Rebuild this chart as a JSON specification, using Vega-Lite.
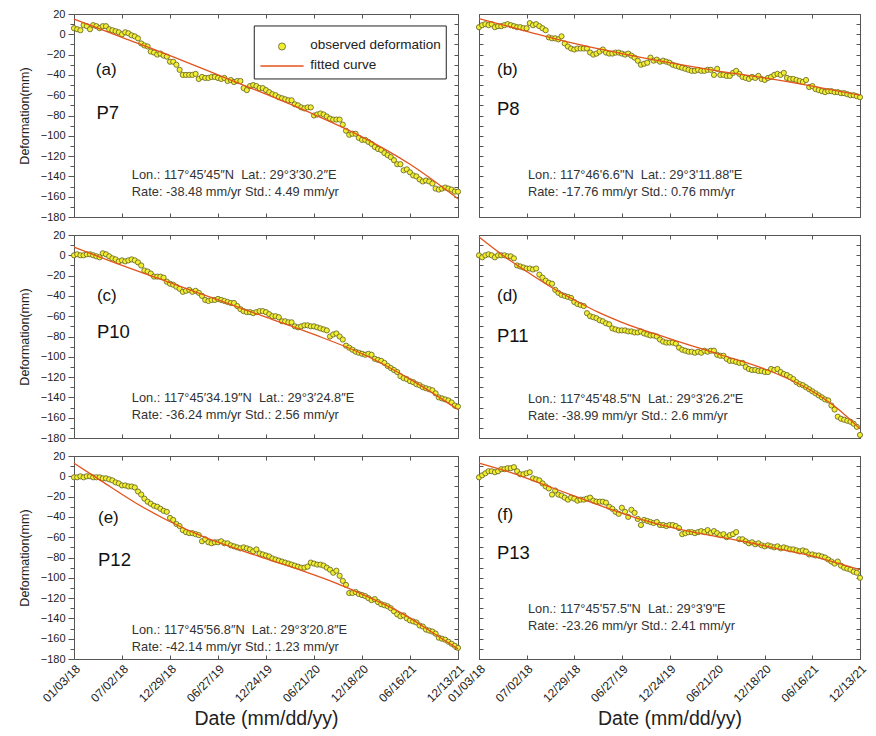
{
"$schema":"https://vega.github.io/schema/vega-lite/v6.json",
"background":"white",
"padding":{"left":18,"top":8,"right":5,"bottom":5},
"config":{"font":"Liberation Sans","view":{"stroke":null},"axis":{"domainColor":"#555","tickColor":"#555","labelColor":"#222","titleColor":"#222","grid":false,"labelFont":"Liberation Sans","titleFont":"Liberation Sans","domainWidth":1,"tickWidth":1}},
"datasets":{
"a":[{"t":0,"v":6},{"t":12,"v":5},{"t":24,"v":4},{"t":36,"v":9},{"t":48,"v":8},{"t":60,"v":5},{"t":72,"v":9},{"t":84,"v":8},{"t":96,"v":6},{"t":108,"v":8},{"t":120,"v":8},{"t":132,"v":5},{"t":144,"v":4},{"t":156,"v":3},{"t":168,"v":2},{"t":180,"v":0},{"t":192,"v":2},{"t":204,"v":1},{"t":216,"v":-1},{"t":228,"v":-2},{"t":240,"v":-4},{"t":252,"v":-9},{"t":264,"v":-11},{"t":276,"v":-12},{"t":288,"v":-17},{"t":300,"v":-18},{"t":312,"v":-20},{"t":324,"v":-19},{"t":336,"v":-21},{"t":348,"v":-22},{"t":360,"v":-27},{"t":372,"v":-27},{"t":384,"v":-30},{"t":396,"v":-35},{"t":408,"v":-40},{"t":420,"v":-40},{"t":432,"v":-40},{"t":444,"v":-40},{"t":456,"v":-39},{"t":468,"v":-44},{"t":480,"v":-42},{"t":492,"v":-43},{"t":504,"v":-43},{"t":516,"v":-42},{"t":528,"v":-42},{"t":540,"v":-43},{"t":552,"v":-44},{"t":564,"v":-43},{"t":576,"v":-46},{"t":588,"v":-45},{"t":600,"v":-47},{"t":612,"v":-46},{"t":624,"v":-46},{"t":636,"v":-53},{"t":648,"v":-55},{"t":660,"v":-51},{"t":672,"v":-50},{"t":684,"v":-51},{"t":696,"v":-53},{"t":708,"v":-53},{"t":720,"v":-55},{"t":732,"v":-57},{"t":744,"v":-59},{"t":756,"v":-60},{"t":768,"v":-62},{"t":780,"v":-63},{"t":792,"v":-64},{"t":804,"v":-65},{"t":816,"v":-65},{"t":828,"v":-69},{"t":840,"v":-70},{"t":852,"v":-72},{"t":864,"v":-73},{"t":876,"v":-72},{"t":888,"v":-72},{"t":900,"v":-80},{"t":912,"v":-79},{"t":924,"v":-78},{"t":936,"v":-79},{"t":948,"v":-81},{"t":960,"v":-83},{"t":972,"v":-84},{"t":984,"v":-84},{"t":996,"v":-84},{"t":1008,"v":-89},{"t":1020,"v":-95},{"t":1032,"v":-99},{"t":1044,"v":-98},{"t":1056,"v":-98},{"t":1068,"v":-102},{"t":1080,"v":-104},{"t":1092,"v":-104},{"t":1104,"v":-106},{"t":1116,"v":-108},{"t":1128,"v":-111},{"t":1140,"v":-113},{"t":1152,"v":-114},{"t":1164,"v":-117},{"t":1176,"v":-119},{"t":1188,"v":-121},{"t":1200,"v":-124},{"t":1212,"v":-128},{"t":1224,"v":-128},{"t":1236,"v":-134},{"t":1248,"v":-133},{"t":1260,"v":-136},{"t":1272,"v":-139},{"t":1284,"v":-140},{"t":1296,"v":-143},{"t":1308,"v":-145},{"t":1320,"v":-144},{"t":1332,"v":-145},{"t":1344,"v":-147},{"t":1356,"v":-152},{"t":1368,"v":-153},{"t":1380,"v":-152},{"t":1392,"v":-151},{"t":1404,"v":-152},{"t":1416,"v":-153},{"t":1428,"v":-155},{"t":1440,"v":-155}],
"b":[{"t":0,"v":7},{"t":12,"v":9},{"t":24,"v":10},{"t":36,"v":9},{"t":48,"v":10},{"t":60,"v":7},{"t":72,"v":8},{"t":84,"v":8},{"t":96,"v":9},{"t":108,"v":10},{"t":120,"v":9},{"t":132,"v":8},{"t":144,"v":7},{"t":156,"v":7},{"t":168,"v":6},{"t":180,"v":6},{"t":192,"v":11},{"t":204,"v":9},{"t":216,"v":10},{"t":228,"v":8},{"t":240,"v":6},{"t":252,"v":4},{"t":264,"v":-3},{"t":276,"v":-4},{"t":288,"v":-4},{"t":300,"v":-5},{"t":312,"v":-2},{"t":324,"v":-9},{"t":336,"v":-12},{"t":348,"v":-14},{"t":360,"v":-15},{"t":372,"v":-14},{"t":384,"v":-14},{"t":396,"v":-14},{"t":408,"v":-14},{"t":420,"v":-18},{"t":432,"v":-20},{"t":444,"v":-19},{"t":456,"v":-17},{"t":468,"v":-15},{"t":480,"v":-18},{"t":492,"v":-19},{"t":504,"v":-19},{"t":516,"v":-18},{"t":528,"v":-18},{"t":540,"v":-19},{"t":552,"v":-20},{"t":564,"v":-19},{"t":576,"v":-21},{"t":588,"v":-23},{"t":600,"v":-26},{"t":612,"v":-30},{"t":624,"v":-29},{"t":636,"v":-28},{"t":648,"v":-23},{"t":660,"v":-26},{"t":672,"v":-25},{"t":684,"v":-27},{"t":696,"v":-26},{"t":708,"v":-27},{"t":720,"v":-28},{"t":732,"v":-30},{"t":744,"v":-31},{"t":756,"v":-32},{"t":768,"v":-33},{"t":780,"v":-34},{"t":792,"v":-35},{"t":804,"v":-36},{"t":816,"v":-36},{"t":828,"v":-35},{"t":840,"v":-36},{"t":852,"v":-36},{"t":864,"v":-35},{"t":876,"v":-35},{"t":888,"v":-40},{"t":900,"v":-34},{"t":912,"v":-40},{"t":924,"v":-40},{"t":936,"v":-41},{"t":948,"v":-41},{"t":960,"v":-38},{"t":972,"v":-36},{"t":984,"v":-39},{"t":996,"v":-42},{"t":1008,"v":-43},{"t":1020,"v":-44},{"t":1032,"v":-42},{"t":1044,"v":-43},{"t":1056,"v":-41},{"t":1068,"v":-44},{"t":1080,"v":-45},{"t":1092,"v":-43},{"t":1104,"v":-42},{"t":1116,"v":-40},{"t":1128,"v":-39},{"t":1140,"v":-40},{"t":1152,"v":-38},{"t":1164,"v":-43},{"t":1176,"v":-44},{"t":1188,"v":-44},{"t":1200,"v":-45},{"t":1212,"v":-46},{"t":1224,"v":-47},{"t":1236,"v":-45},{"t":1248,"v":-52},{"t":1260,"v":-51},{"t":1272,"v":-54},{"t":1284,"v":-55},{"t":1296,"v":-56},{"t":1308,"v":-57},{"t":1320,"v":-56},{"t":1332,"v":-56},{"t":1344,"v":-57},{"t":1356,"v":-57},{"t":1368,"v":-58},{"t":1380,"v":-58},{"t":1392,"v":-59},{"t":1404,"v":-60},{"t":1416,"v":-60},{"t":1428,"v":-61},{"t":1440,"v":-62}],
"c":[{"t":0,"v":0},{"t":12,"v":1},{"t":24,"v":0},{"t":36,"v":0},{"t":48,"v":1},{"t":60,"v":1},{"t":72,"v":0},{"t":84,"v":-1},{"t":96,"v":-2},{"t":108,"v":2},{"t":120,"v":1},{"t":132,"v":-1},{"t":144,"v":-3},{"t":156,"v":-4},{"t":168,"v":-6},{"t":180,"v":-5},{"t":192,"v":-6},{"t":204,"v":-5},{"t":216,"v":-4},{"t":228,"v":-5},{"t":240,"v":-7},{"t":252,"v":-10},{"t":264,"v":-15},{"t":276,"v":-16},{"t":288,"v":-18},{"t":300,"v":-21},{"t":312,"v":-21},{"t":324,"v":-21},{"t":336,"v":-22},{"t":348,"v":-26},{"t":360,"v":-28},{"t":372,"v":-29},{"t":384,"v":-31},{"t":396,"v":-33},{"t":408,"v":-36},{"t":420,"v":-35},{"t":432,"v":-34},{"t":444,"v":-36},{"t":456,"v":-35},{"t":468,"v":-37},{"t":480,"v":-40},{"t":492,"v":-44},{"t":504,"v":-45},{"t":516,"v":-44},{"t":528,"v":-44},{"t":540,"v":-43},{"t":552,"v":-44},{"t":564,"v":-45},{"t":576,"v":-46},{"t":588,"v":-47},{"t":600,"v":-47},{"t":612,"v":-50},{"t":624,"v":-53},{"t":636,"v":-55},{"t":648,"v":-56},{"t":660,"v":-56},{"t":672,"v":-57},{"t":684,"v":-56},{"t":696,"v":-55},{"t":708,"v":-55},{"t":720,"v":-56},{"t":732,"v":-58},{"t":744,"v":-60},{"t":756,"v":-60},{"t":768,"v":-61},{"t":780,"v":-65},{"t":792,"v":-65},{"t":804,"v":-66},{"t":816,"v":-66},{"t":828,"v":-70},{"t":840,"v":-71},{"t":852,"v":-70},{"t":864,"v":-69},{"t":876,"v":-69},{"t":888,"v":-70},{"t":900,"v":-70},{"t":912,"v":-71},{"t":924,"v":-72},{"t":936,"v":-73},{"t":948,"v":-74},{"t":960,"v":-80},{"t":972,"v":-78},{"t":984,"v":-77},{"t":996,"v":-80},{"t":1008,"v":-83},{"t":1020,"v":-89},{"t":1032,"v":-91},{"t":1044,"v":-93},{"t":1056,"v":-95},{"t":1068,"v":-96},{"t":1080,"v":-97},{"t":1092,"v":-98},{"t":1104,"v":-97},{"t":1116,"v":-98},{"t":1128,"v":-102},{"t":1140,"v":-103},{"t":1152,"v":-104},{"t":1164,"v":-106},{"t":1176,"v":-109},{"t":1188,"v":-111},{"t":1200,"v":-113},{"t":1212,"v":-115},{"t":1224,"v":-119},{"t":1236,"v":-121},{"t":1248,"v":-122},{"t":1260,"v":-124},{"t":1272,"v":-125},{"t":1284,"v":-127},{"t":1296,"v":-128},{"t":1308,"v":-130},{"t":1320,"v":-131},{"t":1332,"v":-132},{"t":1344,"v":-133},{"t":1356,"v":-136},{"t":1368,"v":-140},{"t":1380,"v":-141},{"t":1392,"v":-142},{"t":1404,"v":-143},{"t":1416,"v":-145},{"t":1428,"v":-148},{"t":1440,"v":-149}],
"d":[{"t":0,"v":0},{"t":12,"v":-2},{"t":24,"v":0},{"t":36,"v":1},{"t":48,"v":0},{"t":60,"v":-2},{"t":72,"v":0},{"t":84,"v":0},{"t":96,"v":0},{"t":108,"v":-1},{"t":120,"v":-1},{"t":132,"v":-3},{"t":144,"v":-10},{"t":156,"v":-11},{"t":168,"v":-12},{"t":180,"v":-13},{"t":192,"v":-13},{"t":204,"v":-14},{"t":216,"v":-13},{"t":228,"v":-19},{"t":240,"v":-22},{"t":252,"v":-25},{"t":264,"v":-27},{"t":276,"v":-28},{"t":288,"v":-34},{"t":300,"v":-37},{"t":312,"v":-39},{"t":324,"v":-40},{"t":336,"v":-41},{"t":348,"v":-42},{"t":360,"v":-46},{"t":372,"v":-48},{"t":384,"v":-49},{"t":396,"v":-50},{"t":408,"v":-57},{"t":420,"v":-60},{"t":432,"v":-61},{"t":444,"v":-62},{"t":456,"v":-64},{"t":468,"v":-65},{"t":480,"v":-67},{"t":492,"v":-68},{"t":504,"v":-72},{"t":516,"v":-73},{"t":528,"v":-74},{"t":540,"v":-74},{"t":552,"v":-74},{"t":564,"v":-75},{"t":576,"v":-75},{"t":588,"v":-76},{"t":600,"v":-76},{"t":612,"v":-75},{"t":624,"v":-77},{"t":636,"v":-78},{"t":648,"v":-79},{"t":660,"v":-79},{"t":672,"v":-80},{"t":684,"v":-83},{"t":696,"v":-85},{"t":708,"v":-86},{"t":720,"v":-86},{"t":732,"v":-86},{"t":744,"v":-87},{"t":756,"v":-91},{"t":768,"v":-93},{"t":780,"v":-94},{"t":792,"v":-95},{"t":804,"v":-95},{"t":816,"v":-96},{"t":828,"v":-95},{"t":840,"v":-96},{"t":852,"v":-94},{"t":864,"v":-95},{"t":876,"v":-94},{"t":888,"v":-94},{"t":900,"v":-98},{"t":912,"v":-99},{"t":924,"v":-99},{"t":936,"v":-102},{"t":948,"v":-104},{"t":960,"v":-104},{"t":972,"v":-105},{"t":984,"v":-106},{"t":996,"v":-106},{"t":1008,"v":-110},{"t":1020,"v":-112},{"t":1032,"v":-113},{"t":1044,"v":-113},{"t":1056,"v":-114},{"t":1068,"v":-114},{"t":1080,"v":-115},{"t":1092,"v":-115},{"t":1104,"v":-112},{"t":1116,"v":-113},{"t":1128,"v":-112},{"t":1140,"v":-115},{"t":1152,"v":-117},{"t":1164,"v":-118},{"t":1176,"v":-120},{"t":1188,"v":-122},{"t":1200,"v":-125},{"t":1212,"v":-127},{"t":1224,"v":-128},{"t":1236,"v":-130},{"t":1248,"v":-132},{"t":1260,"v":-134},{"t":1272,"v":-136},{"t":1284,"v":-138},{"t":1296,"v":-140},{"t":1308,"v":-142},{"t":1320,"v":-143},{"t":1332,"v":-148},{"t":1344,"v":-152},{"t":1356,"v":-159},{"t":1368,"v":-161},{"t":1380,"v":-162},{"t":1392,"v":-163},{"t":1404,"v":-164},{"t":1416,"v":-166},{"t":1428,"v":-169},{"t":1440,"v":-177}],
"e":[{"t":0,"v":-1},{"t":12,"v":-1},{"t":24,"v":0},{"t":36,"v":-1},{"t":48,"v":0},{"t":60,"v":0},{"t":72,"v":-1},{"t":84,"v":-1},{"t":96,"v":-1},{"t":108,"v":-2},{"t":120,"v":-2},{"t":132,"v":-3},{"t":144,"v":-4},{"t":156,"v":-6},{"t":168,"v":-7},{"t":180,"v":-9},{"t":192,"v":-9},{"t":204,"v":-10},{"t":216,"v":-10},{"t":228,"v":-11},{"t":240,"v":-15},{"t":252,"v":-18},{"t":264,"v":-22},{"t":276,"v":-25},{"t":288,"v":-27},{"t":300,"v":-29},{"t":312,"v":-30},{"t":324,"v":-32},{"t":336,"v":-34},{"t":348,"v":-35},{"t":360,"v":-41},{"t":372,"v":-43},{"t":384,"v":-47},{"t":396,"v":-49},{"t":408,"v":-53},{"t":420,"v":-55},{"t":432,"v":-56},{"t":444,"v":-56},{"t":456,"v":-57},{"t":468,"v":-58},{"t":480,"v":-64},{"t":492,"v":-62},{"t":504,"v":-65},{"t":516,"v":-66},{"t":528,"v":-65},{"t":540,"v":-65},{"t":552,"v":-64},{"t":564,"v":-66},{"t":576,"v":-66},{"t":588,"v":-68},{"t":600,"v":-69},{"t":612,"v":-70},{"t":624,"v":-71},{"t":636,"v":-70},{"t":648,"v":-71},{"t":660,"v":-72},{"t":672,"v":-74},{"t":684,"v":-72},{"t":696,"v":-76},{"t":708,"v":-77},{"t":720,"v":-78},{"t":732,"v":-79},{"t":744,"v":-81},{"t":756,"v":-82},{"t":768,"v":-83},{"t":780,"v":-84},{"t":792,"v":-85},{"t":804,"v":-86},{"t":816,"v":-87},{"t":828,"v":-88},{"t":840,"v":-89},{"t":852,"v":-90},{"t":864,"v":-90},{"t":876,"v":-89},{"t":888,"v":-85},{"t":900,"v":-86},{"t":912,"v":-87},{"t":924,"v":-87},{"t":936,"v":-88},{"t":948,"v":-90},{"t":960,"v":-92},{"t":972,"v":-95},{"t":984,"v":-93},{"t":996,"v":-98},{"t":1008,"v":-103},{"t":1020,"v":-107},{"t":1032,"v":-115},{"t":1044,"v":-115},{"t":1056,"v":-114},{"t":1068,"v":-116},{"t":1080,"v":-117},{"t":1092,"v":-118},{"t":1104,"v":-120},{"t":1116,"v":-122},{"t":1128,"v":-121},{"t":1140,"v":-124},{"t":1152,"v":-126},{"t":1164,"v":-127},{"t":1176,"v":-128},{"t":1188,"v":-130},{"t":1200,"v":-133},{"t":1212,"v":-136},{"t":1224,"v":-138},{"t":1236,"v":-137},{"t":1248,"v":-140},{"t":1260,"v":-142},{"t":1272,"v":-143},{"t":1284,"v":-144},{"t":1296,"v":-147},{"t":1308,"v":-148},{"t":1320,"v":-151},{"t":1332,"v":-152},{"t":1344,"v":-153},{"t":1356,"v":-155},{"t":1368,"v":-159},{"t":1380,"v":-160},{"t":1392,"v":-161},{"t":1404,"v":-163},{"t":1416,"v":-165},{"t":1428,"v":-167},{"t":1440,"v":-169}],
"f":[{"t":0,"v":-1},{"t":12,"v":1},{"t":24,"v":3},{"t":36,"v":5},{"t":48,"v":5},{"t":60,"v":4},{"t":72,"v":5},{"t":84,"v":7},{"t":96,"v":7},{"t":108,"v":8},{"t":120,"v":8},{"t":132,"v":9},{"t":144,"v":5},{"t":156,"v":2},{"t":168,"v":2},{"t":180,"v":3},{"t":192,"v":4},{"t":204,"v":-2},{"t":216,"v":-3},{"t":228,"v":-4},{"t":240,"v":-7},{"t":252,"v":-10},{"t":264,"v":-12},{"t":276,"v":-18},{"t":288,"v":-14},{"t":300,"v":-18},{"t":312,"v":-19},{"t":324,"v":-21},{"t":336,"v":-23},{"t":348,"v":-21},{"t":360,"v":-22},{"t":372,"v":-24},{"t":384,"v":-23},{"t":396,"v":-23},{"t":408,"v":-22},{"t":420,"v":-21},{"t":432,"v":-24},{"t":444,"v":-25},{"t":456,"v":-25},{"t":468,"v":-25},{"t":480,"v":-26},{"t":492,"v":-30},{"t":504,"v":-32},{"t":516,"v":-35},{"t":528,"v":-37},{"t":540,"v":-31},{"t":552,"v":-35},{"t":564,"v":-40},{"t":576,"v":-33},{"t":588,"v":-36},{"t":600,"v":-42},{"t":612,"v":-48},{"t":624,"v":-43},{"t":636,"v":-44},{"t":648,"v":-45},{"t":660,"v":-46},{"t":672,"v":-45},{"t":684,"v":-48},{"t":696,"v":-48},{"t":708,"v":-49},{"t":720,"v":-48},{"t":732,"v":-48},{"t":744,"v":-49},{"t":756,"v":-51},{"t":768,"v":-57},{"t":780,"v":-56},{"t":792,"v":-55},{"t":804,"v":-55},{"t":816,"v":-56},{"t":828,"v":-55},{"t":840,"v":-54},{"t":852,"v":-55},{"t":864,"v":-53},{"t":876,"v":-56},{"t":888,"v":-54},{"t":900,"v":-56},{"t":912,"v":-58},{"t":924,"v":-57},{"t":936,"v":-60},{"t":948,"v":-58},{"t":960,"v":-57},{"t":972,"v":-55},{"t":984,"v":-62},{"t":996,"v":-62},{"t":1008,"v":-64},{"t":1020,"v":-66},{"t":1032,"v":-65},{"t":1044,"v":-67},{"t":1056,"v":-66},{"t":1068,"v":-68},{"t":1080,"v":-69},{"t":1092,"v":-68},{"t":1104,"v":-69},{"t":1116,"v":-70},{"t":1128,"v":-69},{"t":1140,"v":-71},{"t":1152,"v":-70},{"t":1164,"v":-71},{"t":1176,"v":-72},{"t":1188,"v":-72},{"t":1200,"v":-73},{"t":1212,"v":-74},{"t":1224,"v":-73},{"t":1236,"v":-74},{"t":1248,"v":-77},{"t":1260,"v":-77},{"t":1272,"v":-78},{"t":1284,"v":-78},{"t":1296,"v":-79},{"t":1308,"v":-80},{"t":1320,"v":-82},{"t":1332,"v":-84},{"t":1344,"v":-86},{"t":1356,"v":-84},{"t":1368,"v":-88},{"t":1380,"v":-90},{"t":1392,"v":-91},{"t":1404,"v":-92},{"t":1416,"v":-94},{"t":1428,"v":-95},{"t":1440,"v":-100}],
"a_fit":[{"t":0,"v":15},{"t":180,"v":-3},{"t":360,"v":-21},{"t":540,"v":-40},{"t":720,"v":-59},{"t":900,"v":-79},{"t":1080,"v":-101},{"t":1260,"v":-128},{"t":1440,"v":-162}],
"b_fit":[{"t":0,"v":15.5},{"t":180,"v":3},{"t":360,"v":-9},{"t":540,"v":-19},{"t":720,"v":-28},{"t":900,"v":-36},{"t":1080,"v":-43},{"t":1260,"v":-51},{"t":1440,"v":-60}],
"c_fit":[{"t":0,"v":8},{"t":180,"v":-10},{"t":360,"v":-27},{"t":540,"v":-44},{"t":720,"v":-61},{"t":900,"v":-78},{"t":1080,"v":-97},{"t":1260,"v":-122},{"t":1440,"v":-152}],
"d_fit":[{"t":0,"v":18},{"t":90,"v":0},{"t":180,"v":-16},{"t":270,"v":-31},{"t":360,"v":-44},{"t":450,"v":-56},{"t":540,"v":-66},{"t":720,"v":-82},{"t":900,"v":-97},{"t":1080,"v":-112},{"t":1260,"v":-134},{"t":1350,"v":-150},{"t":1440,"v":-171}],
"e_fit":[{"t":0,"v":13},{"t":105,"v":-5},{"t":230,"v":-26},{"t":355,"v":-44},{"t":480,"v":-59},{"t":605,"v":-71},{"t":730,"v":-82},{"t":855,"v":-93},{"t":980,"v":-105},{"t":1105,"v":-119},{"t":1230,"v":-135},{"t":1380,"v":-160},{"t":1440,"v":-170}],
"f_fit":[{"t":0,"v":13},{"t":116,"v":4},{"t":242,"v":-8},{"t":367,"v":-20},{"t":493,"v":-32},{"t":619,"v":-43},{"t":745,"v":-51.5},{"t":870,"v":-58},{"t":996,"v":-64},{"t":1122,"v":-71},{"t":1248,"v":-78},{"t":1374,"v":-87},{"t":1440,"v":-92}]
},
"spacing":7,
"vconcat":[
{"bounds":"flush","spacing":21,"hconcat":[
{"width":384,"height":203,"resolve":{"axis":{"x":"independent","y":"independent"}},
"layer":[
{"data":{"name":"a"},"mark":{"type":"point","filled":true,"size":27,"fill":"#f2ee30","stroke":"#5e5e28","strokeWidth":0.8,"opacity":1},
"encoding":{"x":{"field":"t","type":"quantitative","scale":{"domain":[0,1440],"nice":false},"axis":{"orient":"bottom","values":[0,180,360,540,720,900,1080,1260,1440],"tickSize":-4,"labels":false,"title":null}},
"y":{"field":"v","type":"quantitative","scale":{"domain":[-180,20],"nice":false,"zero":false},"axis":{"orient":"left","values":[20,10,0,-10,-20,-30,-40,-50,-60,-70,-80,-90,-100,-110,-120,-130,-140,-150,-160,-170,-180],"labelExpr":"datum.value % 20 === 0 ? datum.label : ''","tickSize":{"condition":{"test":"datum.value % 20 === 0","value":6},"value":4},"labelPadding":3,"labelFontSize":11,"labelOverlap":false,"labelFlush":false,"title":"Deformation(mm)","titleFontSize":12.5,"titleFontWeight":"normal","titlePadding":9}}}},
{"data":{"name":"a_fit"},"mark":{"type":"line","interpolate":"monotone","strokeWidth":1.3,"color":"#e3531d"},
"encoding":{"x":{"field":"t","type":"quantitative","axis":{"orient":"top","values":[0,180,360,540,720,900,1080,1260,1440],"tickSize":-4,"labels":false,"title":null}},
"y":{"field":"v","type":"quantitative","axis":{"orient":"right","values":[20,10,0,-10,-20,-30,-40,-50,-60,-70,-80,-90,-100,-110,-120,-130,-140,-150,-160,-170,-180],"tickSize":-4,"labels":false,"title":null}}}},
{"data":{"values":[{}]},"mark":{"type":"rect","fill":"white","stroke":"#222","strokeWidth":1},"encoding":{"x":{"datum":676,"type":"quantitative","axis":null},"x2":{"datum":1396},"y":{"datum":8.2,"type":"quantitative","axis":null},"y2":{"datum":-44}}},
{"data":{"values":[{}]},"mark":{"type":"point","filled":true,"size":50,"fill":"#f2ee30","stroke":"#5e5e28","strokeWidth":0.8,"opacity":1},"encoding":{"x":{"datum":780,"type":"quantitative","axis":null},"y":{"datum":-12,"type":"quantitative","axis":null}}},
{"data":{"values":[{}]},"mark":{"type":"rule","color":"#e3531d","strokeWidth":1.5},"encoding":{"x":{"datum":699,"type":"quantitative","axis":null},"x2":{"datum":861},"y":{"datum":-31.2,"type":"quantitative","axis":null}}},
{"data":{"values":[{}]},"mark":{"type":"text","align":"left","baseline":"middle","fontSize":13.5,"color":"#222"},"encoding":{"x":{"datum":886,"type":"quantitative","axis":null},"y":{"datum":-11,"type":"quantitative","axis":null},"text":{"value":"observed deformation"}}},
{"data":{"values":[{}]},"mark":{"type":"text","align":"left","baseline":"middle","fontSize":13.5,"color":"#222"},"encoding":{"x":{"datum":886,"type":"quantitative","axis":null},"y":{"datum":-30.5,"type":"quantitative","axis":null},"text":{"value":"fitted curve"}}},
{"data":{"values":[{}]},"mark":{"type":"text","align":"left","baseline":"middle","fontSize":17,"color":"#111"},"encoding":{"x":{"datum":82,"type":"quantitative","axis":null},"y":{"datum":-35.5,"type":"quantitative","axis":null},"text":{"value":"(a)"}}},
{"data":{"values":[{}]},"mark":{"type":"text","align":"left","baseline":"middle","fontSize":18.5,"color":"#111"},"encoding":{"x":{"datum":84,"type":"quantitative","axis":null},"y":{"datum":-77.5,"type":"quantitative","axis":null},"text":{"value":"P7"}}},
{"data":{"values":[{}]},"mark":{"type":"text","align":"left","baseline":"middle","fontSize":12.8,"lineHeight":17,"color":"#333"},"encoding":{"x":{"datum":217,"type":"quantitative","axis":null},"y":{"datum":-139,"type":"quantitative","axis":null},"text":{"value":["Lon.: 117°45′45″N\u00a0 Lat.: 29°3′30.2″E","Rate: -38.48 mm/yr Std.: 4.49 mm/yr"]}}}
]},
{"width":381,"height":203,"resolve":{"axis":{"x":"independent","y":"independent"}},
"layer":[
{"data":{"name":"b"},"mark":{"type":"point","filled":true,"size":27,"fill":"#f2ee30","stroke":"#5e5e28","strokeWidth":0.8,"opacity":1},
"encoding":{"x":{"field":"t","type":"quantitative","scale":{"domain":[0,1440],"nice":false},"axis":{"orient":"bottom","values":[0,180,360,540,720,900,1080,1260,1440],"tickSize":-4,"labels":false,"title":null}},
"y":{"field":"v","type":"quantitative","scale":{"domain":[-180,20],"nice":false,"zero":false},"axis":{"orient":"left","values":[20,10,0,-10,-20,-30,-40,-50,-60,-70,-80,-90,-100,-110,-120,-130,-140,-150,-160,-170,-180],"tickSize":-4,"labels":false,"title":null}}}},
{"data":{"name":"b_fit"},"mark":{"type":"line","interpolate":"monotone","strokeWidth":1.3,"color":"#e3531d"},
"encoding":{"x":{"field":"t","type":"quantitative","axis":{"orient":"top","values":[0,180,360,540,720,900,1080,1260,1440],"tickSize":-4,"labels":false,"title":null}},
"y":{"field":"v","type":"quantitative","axis":{"orient":"right","values":[20,10,0,-10,-20,-30,-40,-50,-60,-70,-80,-90,-100,-110,-120,-130,-140,-150,-160,-170,-180],"tickSize":-4,"labels":false,"title":null}}}},
{"data":{"values":[{}]},"mark":{"type":"text","align":"left","baseline":"middle","fontSize":17,"color":"#111"},"encoding":{"x":{"datum":68,"type":"quantitative","axis":null},"y":{"datum":-35.5,"type":"quantitative","axis":null},"text":{"value":"(b)"}}},
{"data":{"values":[{}]},"mark":{"type":"text","align":"left","baseline":"middle","fontSize":18.5,"color":"#111"},"encoding":{"x":{"datum":68,"type":"quantitative","axis":null},"y":{"datum":-74,"type":"quantitative","axis":null},"text":{"value":"P8"}}},
{"data":{"values":[{}]},"mark":{"type":"text","align":"left","baseline":"middle","fontSize":12.8,"lineHeight":17,"color":"#333"},"encoding":{"x":{"datum":185,"type":"quantitative","axis":null},"y":{"datum":-139,"type":"quantitative","axis":null},"text":{"value":["Lon.: 117°46'6.6\"N\u00a0 Lat.: 29°3'11.88\"E","Rate: -17.76 mm/yr Std.: 0.76 mm/yr"]}}}
]}
]},
{"bounds":"flush","spacing":21,"hconcat":[
{"width":384,"height":203,"resolve":{"axis":{"x":"independent","y":"independent"}},
"layer":[
{"data":{"name":"c"},"mark":{"type":"point","filled":true,"size":27,"fill":"#f2ee30","stroke":"#5e5e28","strokeWidth":0.8,"opacity":1},
"encoding":{"x":{"field":"t","type":"quantitative","scale":{"domain":[0,1440],"nice":false},"axis":{"orient":"bottom","values":[0,180,360,540,720,900,1080,1260,1440],"tickSize":-4,"labels":false,"title":null}},
"y":{"field":"v","type":"quantitative","scale":{"domain":[-180,20],"nice":false,"zero":false},"axis":{"orient":"left","values":[20,10,0,-10,-20,-30,-40,-50,-60,-70,-80,-90,-100,-110,-120,-130,-140,-150,-160,-170,-180],"labelExpr":"datum.value % 20 === 0 ? datum.label : ''","tickSize":{"condition":{"test":"datum.value % 20 === 0","value":6},"value":4},"labelPadding":3,"labelFontSize":11,"labelOverlap":false,"labelFlush":false,"title":"Deformation(mm)","titleFontSize":12.5,"titleFontWeight":"normal","titlePadding":9}}}},
{"data":{"name":"c_fit"},"mark":{"type":"line","interpolate":"monotone","strokeWidth":1.3,"color":"#e3531d"},
"encoding":{"x":{"field":"t","type":"quantitative","axis":{"orient":"top","values":[0,180,360,540,720,900,1080,1260,1440],"tickSize":-4,"labels":false,"title":null}},
"y":{"field":"v","type":"quantitative","axis":{"orient":"right","values":[20,10,0,-10,-20,-30,-40,-50,-60,-70,-80,-90,-100,-110,-120,-130,-140,-150,-160,-170,-180],"tickSize":-4,"labels":false,"title":null}}}},
{"data":{"values":[{}]},"mark":{"type":"text","align":"left","baseline":"middle","fontSize":17,"color":"#111"},"encoding":{"x":{"datum":86,"type":"quantitative","axis":null},"y":{"datum":-40,"type":"quantitative","axis":null},"text":{"value":"(c)"}}},
{"data":{"values":[{}]},"mark":{"type":"text","align":"left","baseline":"middle","fontSize":18.5,"color":"#111"},"encoding":{"x":{"datum":86,"type":"quantitative","axis":null},"y":{"datum":-76,"type":"quantitative","axis":null},"text":{"value":"P10"}}},
{"data":{"values":[{}]},"mark":{"type":"text","align":"left","baseline":"middle","fontSize":12.8,"lineHeight":17,"color":"#333"},"encoding":{"x":{"datum":217,"type":"quantitative","axis":null},"y":{"datum":-141,"type":"quantitative","axis":null},"text":{"value":["Lon.: 117°45′34.19″N\u00a0 Lat.: 29°3′24.8″E","Rate: -36.24 mm/yr Std.: 2.56 mm/yr"]}}}
]},
{"width":381,"height":203,"resolve":{"axis":{"x":"independent","y":"independent"}},
"layer":[
{"data":{"name":"d"},"mark":{"type":"point","filled":true,"size":27,"fill":"#f2ee30","stroke":"#5e5e28","strokeWidth":0.8,"opacity":1},
"encoding":{"x":{"field":"t","type":"quantitative","scale":{"domain":[0,1440],"nice":false},"axis":{"orient":"bottom","values":[0,180,360,540,720,900,1080,1260,1440],"tickSize":-4,"labels":false,"title":null}},
"y":{"field":"v","type":"quantitative","scale":{"domain":[-180,20],"nice":false,"zero":false},"axis":{"orient":"left","values":[20,10,0,-10,-20,-30,-40,-50,-60,-70,-80,-90,-100,-110,-120,-130,-140,-150,-160,-170,-180],"tickSize":-4,"labels":false,"title":null}}}},
{"data":{"name":"d_fit"},"mark":{"type":"line","interpolate":"monotone","strokeWidth":1.3,"color":"#e3531d"},
"encoding":{"x":{"field":"t","type":"quantitative","axis":{"orient":"top","values":[0,180,360,540,720,900,1080,1260,1440],"tickSize":-4,"labels":false,"title":null}},
"y":{"field":"v","type":"quantitative","axis":{"orient":"right","values":[20,10,0,-10,-20,-30,-40,-50,-60,-70,-80,-90,-100,-110,-120,-130,-140,-150,-160,-170,-180],"tickSize":-4,"labels":false,"title":null}}}},
{"data":{"values":[{}]},"mark":{"type":"text","align":"left","baseline":"middle","fontSize":17,"color":"#111"},"encoding":{"x":{"datum":68,"type":"quantitative","axis":null},"y":{"datum":-40,"type":"quantitative","axis":null},"text":{"value":"(d)"}}},
{"data":{"values":[{}]},"mark":{"type":"text","align":"left","baseline":"middle","fontSize":18.5,"color":"#111"},"encoding":{"x":{"datum":68,"type":"quantitative","axis":null},"y":{"datum":-79.5,"type":"quantitative","axis":null},"text":{"value":"P11"}}},
{"data":{"values":[{}]},"mark":{"type":"text","align":"left","baseline":"middle","fontSize":12.8,"lineHeight":17,"color":"#333"},"encoding":{"x":{"datum":185,"type":"quantitative","axis":null},"y":{"datum":-141.5,"type":"quantitative","axis":null},"text":{"value":["Lon.: 117°45'48.5\"N\u00a0 Lat.: 29°3'26.2\"E","Rate: -38.99 mm/yr Std.: 2.6 mm/yr"]}}}
]}
]},
{"bounds":"flush","spacing":21,"hconcat":[
{"width":384,"height":203,"resolve":{"axis":{"x":"independent","y":"independent"}},
"layer":[
{"data":{"name":"e"},"mark":{"type":"point","filled":true,"size":27,"fill":"#f2ee30","stroke":"#5e5e28","strokeWidth":0.8,"opacity":1},
"encoding":{"x":{"field":"t","type":"quantitative","scale":{"domain":[0,1440],"nice":false},"axis":{"orient":"bottom","values":[0,180,360,540,720,900,1080,1260,1440],"tickSize":-4,"labelExpr":"timeFormat(datetime(2018,0,3+datum.value),'%m/%d/%y')","labelAngle":-45,"labelFontSize":12,"labelPadding":8,"labelOverlap":false,"labelFlush":false,"title":"Date (mm/dd/yy)","titleFontSize":19.5,"titleFontWeight":"normal","titlePadding":6}},
"y":{"field":"v","type":"quantitative","scale":{"domain":[-180,20],"nice":false,"zero":false},"axis":{"orient":"left","values":[20,10,0,-10,-20,-30,-40,-50,-60,-70,-80,-90,-100,-110,-120,-130,-140,-150,-160,-170,-180],"labelExpr":"datum.value % 20 === 0 ? datum.label : ''","tickSize":{"condition":{"test":"datum.value % 20 === 0","value":6},"value":4},"labelPadding":3,"labelFontSize":11,"labelOverlap":false,"labelFlush":false,"title":"Deformation(mm)","titleFontSize":12.5,"titleFontWeight":"normal","titlePadding":9}}}},
{"data":{"name":"e_fit"},"mark":{"type":"line","interpolate":"monotone","strokeWidth":1.3,"color":"#e3531d"},
"encoding":{"x":{"field":"t","type":"quantitative","axis":{"orient":"top","values":[0,180,360,540,720,900,1080,1260,1440],"tickSize":-4,"labels":false,"title":null}},
"y":{"field":"v","type":"quantitative","axis":{"orient":"right","values":[20,10,0,-10,-20,-30,-40,-50,-60,-70,-80,-90,-100,-110,-120,-130,-140,-150,-160,-170,-180],"tickSize":-4,"labels":false,"title":null}}}},
{"data":{"values":[{}]},"mark":{"type":"text","align":"left","baseline":"middle","fontSize":17,"color":"#111"},"encoding":{"x":{"datum":90,"type":"quantitative","axis":null},"y":{"datum":-41,"type":"quantitative","axis":null},"text":{"value":"(e)"}}},
{"data":{"values":[{}]},"mark":{"type":"text","align":"left","baseline":"middle","fontSize":18.5,"color":"#111"},"encoding":{"x":{"datum":90,"type":"quantitative","axis":null},"y":{"datum":-82,"type":"quantitative","axis":null},"text":{"value":"P12"}}},
{"data":{"values":[{}]},"mark":{"type":"text","align":"left","baseline":"middle","fontSize":12.8,"lineHeight":17,"color":"#333"},"encoding":{"x":{"datum":217,"type":"quantitative","axis":null},"y":{"datum":-151.5,"type":"quantitative","axis":null},"text":{"value":["Lon.: 117°45′56.8″N\u00a0 Lat.: 29°3′20.8″E","Rate: -42.14 mm/yr Std.: 1.23 mm/yr"]}}}
]},
{"width":381,"height":203,"resolve":{"axis":{"x":"independent","y":"independent"}},
"layer":[
{"data":{"name":"f"},"mark":{"type":"point","filled":true,"size":27,"fill":"#f2ee30","stroke":"#5e5e28","strokeWidth":0.8,"opacity":1},
"encoding":{"x":{"field":"t","type":"quantitative","scale":{"domain":[0,1440],"nice":false},"axis":{"orient":"bottom","values":[0,180,360,540,720,900,1080,1260,1440],"tickSize":-4,"labelExpr":"timeFormat(datetime(2018,0,3+datum.value),'%m/%d/%y')","labelAngle":-45,"labelFontSize":12,"labelPadding":8,"labelOverlap":false,"labelFlush":false,"title":"Date (mm/dd/yy)","titleFontSize":19.5,"titleFontWeight":"normal","titlePadding":6}},
"y":{"field":"v","type":"quantitative","scale":{"domain":[-180,20],"nice":false,"zero":false},"axis":{"orient":"left","values":[20,10,0,-10,-20,-30,-40,-50,-60,-70,-80,-90,-100,-110,-120,-130,-140,-150,-160,-170,-180],"tickSize":-4,"labels":false,"title":null}}}},
{"data":{"name":"f_fit"},"mark":{"type":"line","interpolate":"monotone","strokeWidth":1.3,"color":"#e3531d"},
"encoding":{"x":{"field":"t","type":"quantitative","axis":{"orient":"top","values":[0,180,360,540,720,900,1080,1260,1440],"tickSize":-4,"labels":false,"title":null}},
"y":{"field":"v","type":"quantitative","axis":{"orient":"right","values":[20,10,0,-10,-20,-30,-40,-50,-60,-70,-80,-90,-100,-110,-120,-130,-140,-150,-160,-170,-180],"tickSize":-4,"labels":false,"title":null}}}},
{"data":{"values":[{}]},"mark":{"type":"text","align":"left","baseline":"middle","fontSize":17,"color":"#111"},"encoding":{"x":{"datum":68,"type":"quantitative","axis":null},"y":{"datum":-38,"type":"quantitative","axis":null},"text":{"value":"(f)"}}},
{"data":{"values":[{}]},"mark":{"type":"text","align":"left","baseline":"middle","fontSize":18.5,"color":"#111"},"encoding":{"x":{"datum":68,"type":"quantitative","axis":null},"y":{"datum":-76,"type":"quantitative","axis":null},"text":{"value":"P13"}}},
{"data":{"values":[{}]},"mark":{"type":"text","align":"left","baseline":"middle","fontSize":12.8,"lineHeight":17,"color":"#333"},"encoding":{"x":{"datum":185,"type":"quantitative","axis":null},"y":{"datum":-131,"type":"quantitative","axis":null},"text":{"value":["Lon.: 117°45'57.5\"N\u00a0 Lat.: 29°3'9\"E","Rate: -23.26 mm/yr Std.: 2.41 mm/yr"]}}}
]}
]}
]
}
